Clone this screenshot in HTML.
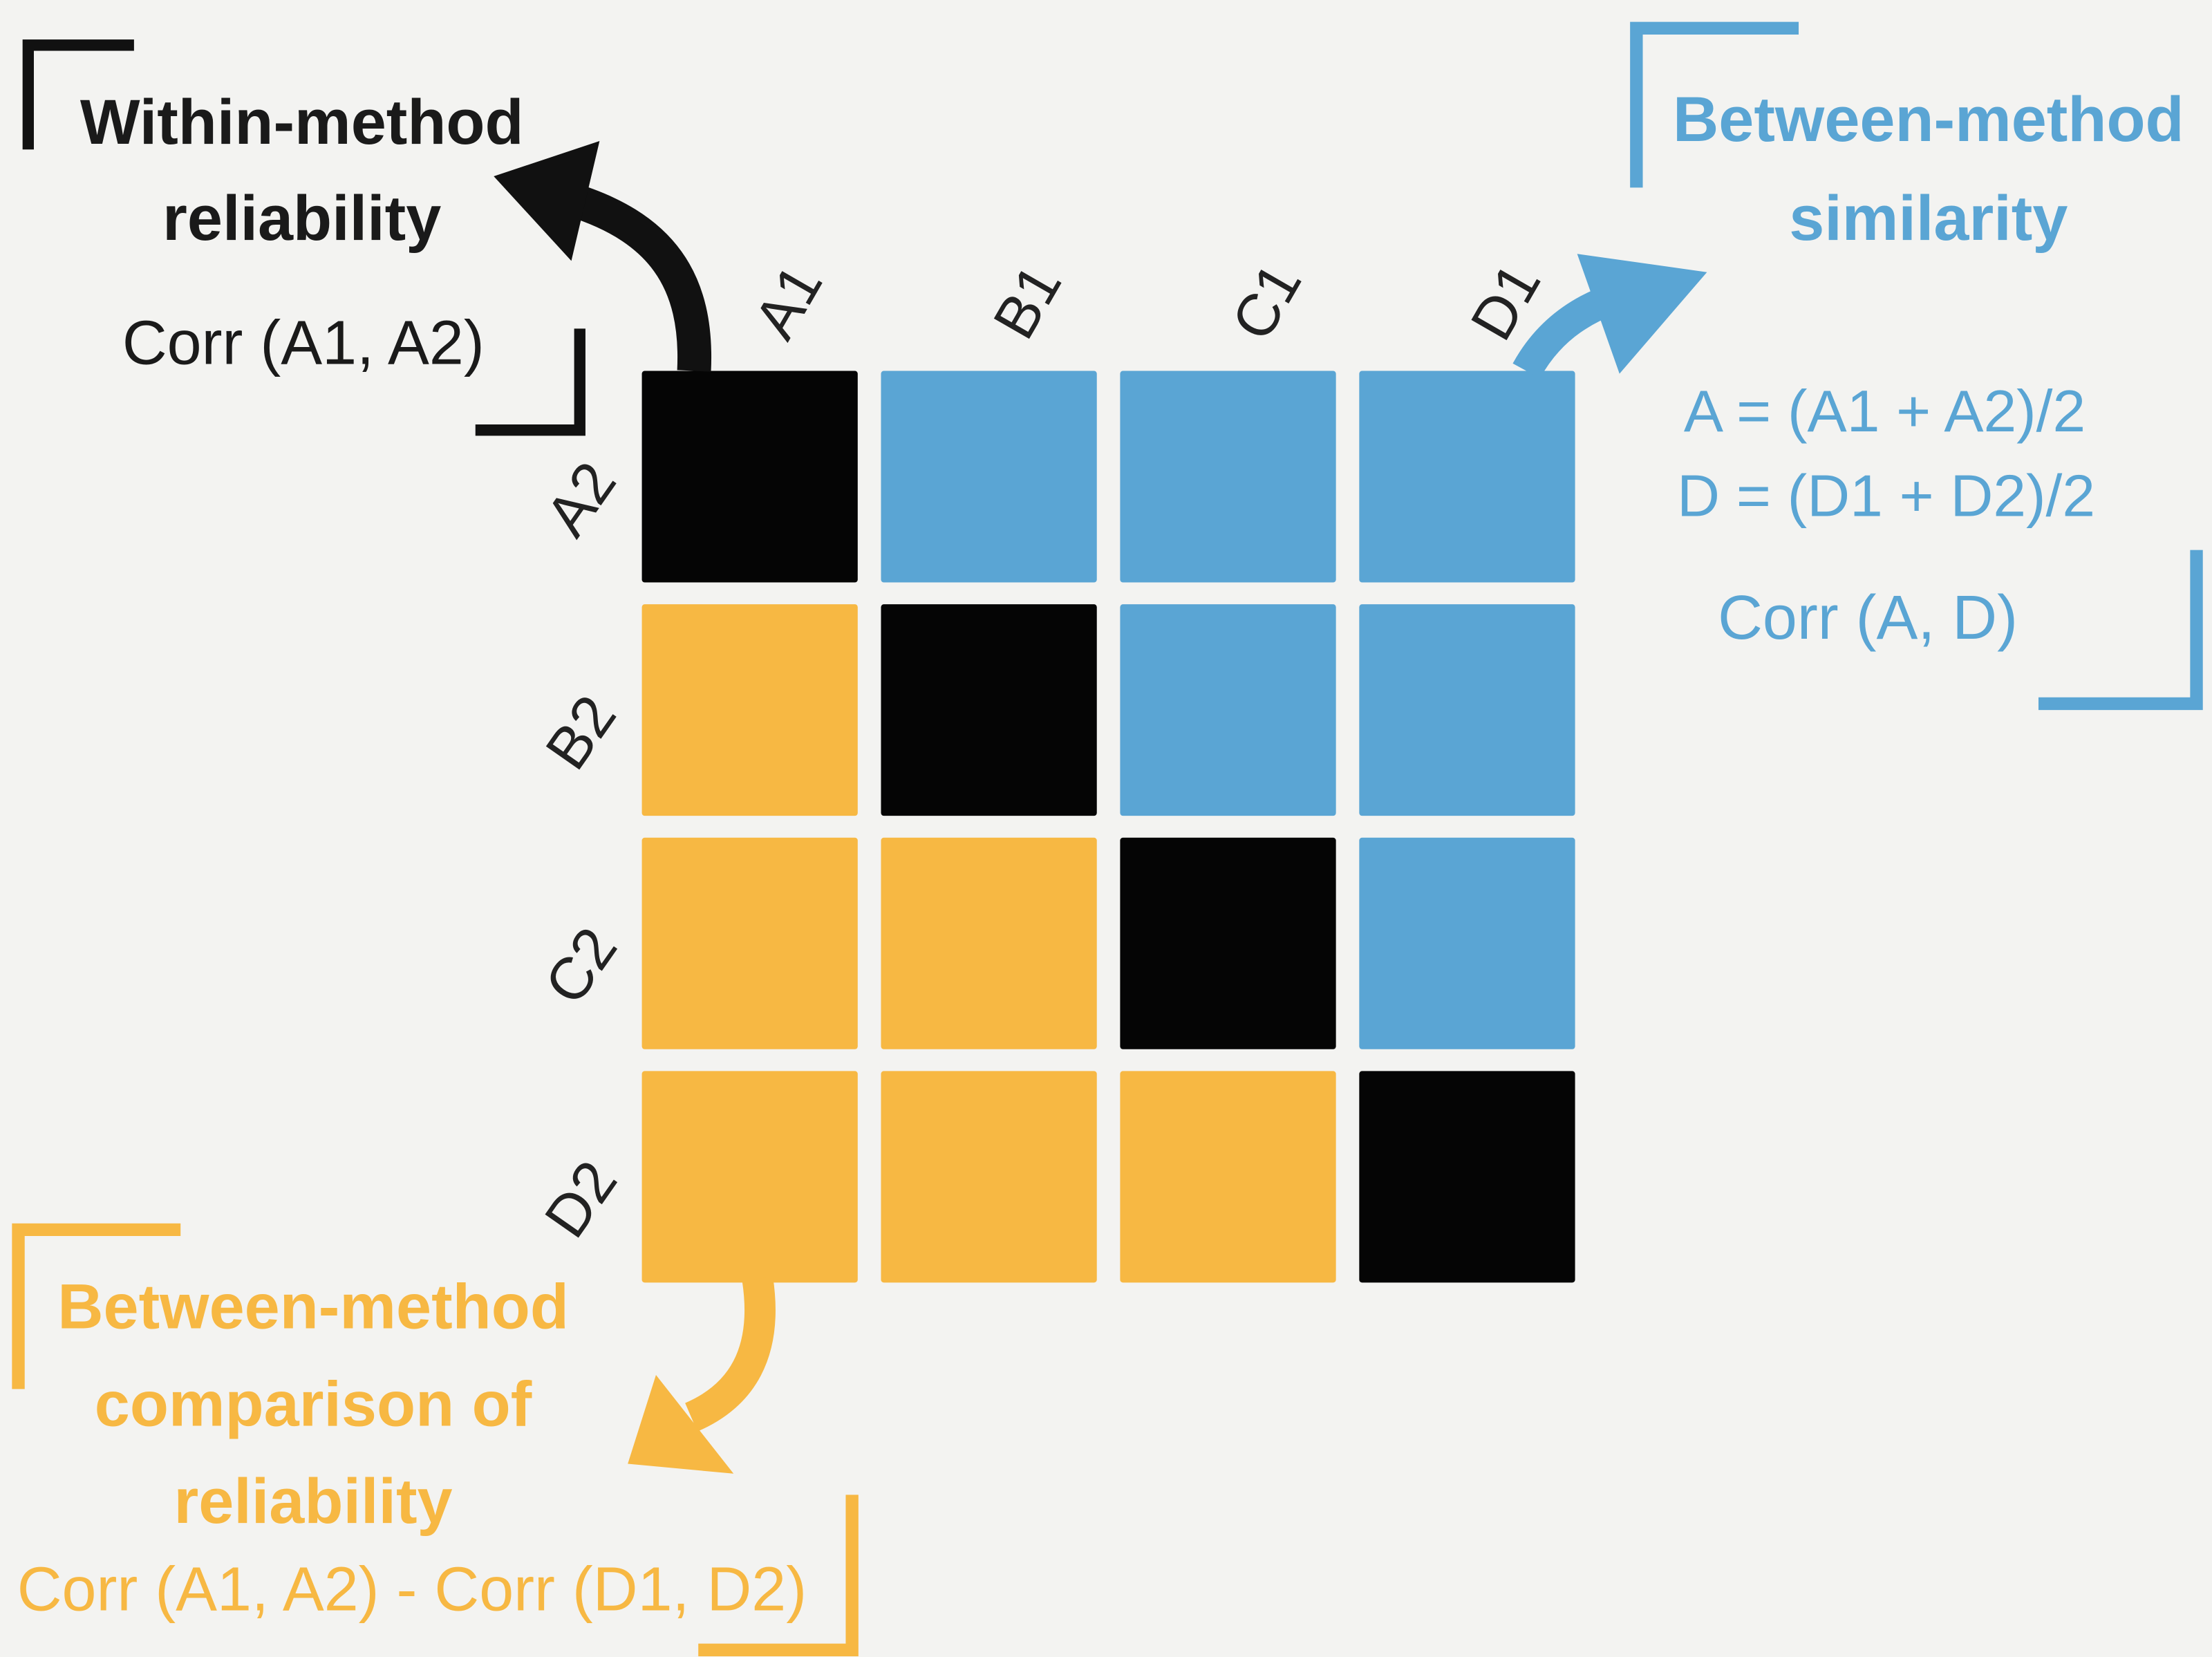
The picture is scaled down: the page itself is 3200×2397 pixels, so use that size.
<!DOCTYPE html>
<html><head><meta charset="utf-8">
<style>
html,body{margin:0;padding:0;background:#f3f3f1;}
svg{display:block;}
text{font-family:"Liberation Sans","DejaVu Sans",sans-serif;}
</style></head>
<body>
<svg width="3200" height="2397" viewBox="0 0 1568 1175" preserveAspectRatio="none">
<rect x="0" y="0" width="1568" height="1175" fill="#f3f3f1"/>
<g id="grid"></g>
<g id="labels"></g>

<g>
<path d="M20,106 V32 H95" fill="none" stroke="#111" stroke-width="8"/>
<path d="M411,233 V305 H337" fill="none" stroke="#111" stroke-width="8"/>
<text x="214" y="102" font-size="45" font-weight="bold" fill="#1a1a1a" text-anchor="middle">Within-method</text>
<text x="214" y="170" font-size="45" font-weight="bold" fill="#1a1a1a" text-anchor="middle">reliability</text>
<text x="215" y="258" font-size="44" fill="#1a1a1a" text-anchor="middle">Corr (A1, A2)</text>
<path d="M492,263 C495,200 470,160 400,140" fill="none" stroke="#111" stroke-width="24"/>
<polygon points="350,125 425,100 405,185" fill="#111"/>
</g>

<g>
<path d="M1160,133 V20 H1275" fill="none" stroke="#5aa5d4" stroke-width="9"/>
<path d="M1557,390 V499 H1445" fill="none" stroke="#5aa5d4" stroke-width="9"/>
<text x="1367" y="100" font-size="45" font-weight="bold" fill="#5aa5d4" text-anchor="middle">Between-method</text>
<text x="1367" y="170" font-size="45" font-weight="bold" fill="#5aa5d4" text-anchor="middle">similarity</text>
<text x="1336" y="306" font-size="42" fill="#5aa5d4" text-anchor="middle">A = (A1 + A2)/2</text>
<text x="1337" y="366" font-size="42" fill="#5aa5d4" text-anchor="middle">D = (D1 + D2)/2</text>
<text x="1324" y="453" font-size="44" fill="#5aa5d4" text-anchor="middle">Corr (A, D)</text>
<path d="M1082,263 C1100,230 1130,212 1170,205" fill="none" stroke="#5aa5d4" stroke-width="22"/>
<polygon points="1118,180 1210,193 1148,265" fill="#5aa5d4"/>
</g>

<g>
<path d="M13,985 V872 H128" fill="none" stroke="#f7b843" stroke-width="9"/>
<path d="M604,1060 V1170 H495" fill="none" stroke="#f7b843" stroke-width="9"/>
<text x="222" y="942" font-size="45" font-weight="bold" fill="#f7b843" text-anchor="middle">Between-method</text>
<text x="222" y="1011" font-size="45" font-weight="bold" fill="#f7b843" text-anchor="middle">comparison of</text>
<text x="222" y="1080" font-size="45" font-weight="bold" fill="#f7b843" text-anchor="middle">reliability</text>
<text x="292" y="1142" font-size="44" fill="#f7b843" text-anchor="middle">Corr (A1, A2) - Corr (D1, D2)</text>
<path d="M537,907 C545,960 525,990 490,1005" fill="none" stroke="#f7b843" stroke-width="22"/>
<polygon points="445,1038 465,975 520,1045" fill="#f7b843"/>
</g>
</svg>
<script>
const colLabels = ["A1","B1","C1","D1"];
const rowLabels = ["A2","B2","C2","D2"];
// cell type: 0 = within-method (diagonal), 1 = between-method similarity, 2 = comparison of reliability
const cellTypes = [
  [0,1,1,1],
  [2,0,1,1],
  [2,2,0,1],
  [2,2,2,0]
];
const typeColors = ["#050505","#5aa5d4","#f7b843"];
const NS = "http://www.w3.org/2000/svg";
const x0 = 455, y0 = 263, cw = 153, ch = 150, gapX = 16.5, gapY = 15.5;
function xPos(i){ return x0 + i*(cw+gapX); }
function yPos(j){ return y0 + j*(ch+gapY); }
const grid = document.getElementById('grid');
cellTypes.forEach((row,j)=>row.forEach((t,i)=>{
  const r = document.createElementNS(NS,'rect');
  r.setAttribute('x', xPos(i)); r.setAttribute('y', yPos(j));
  r.setAttribute('width', cw); r.setAttribute('height', ch);
  r.setAttribute('rx', 2);
  r.setAttribute('fill', typeColors[t]);
  
  
  grid.appendChild(r);
}));
const labels = document.getElementById('labels');
colLabels.forEach((c,i)=>{
  const t = document.createElementNS(NS,'text');
  const cx = xPos(i) + cw*0.68, cy = 228;
  t.setAttribute('x', cx); t.setAttribute('y', cy);
  t.setAttribute('font-size', 42);
  t.setAttribute('fill', '#222');
  t.setAttribute('text-anchor', 'middle');
  t.setAttribute('transform', 'rotate(-60 ' + cx + ' ' + (cy-14) + ')');
  t.textContent = c;
  
  
  labels.appendChild(t);
});
rowLabels.forEach((c,j)=>{
  const t = document.createElementNS(NS,'text');
  const cx = 412, cy = yPos(j) + ch*0.7;
  t.setAttribute('x', cx); t.setAttribute('y', cy);
  t.setAttribute('font-size', 42);
  t.setAttribute('fill', '#222');
  t.setAttribute('text-anchor', 'middle');
  t.setAttribute('transform', 'rotate(-55 ' + cx + ' ' + (cy-14) + ')');
  t.textContent = c;
  
  
  labels.appendChild(t);
});
</script>
</body></html>
